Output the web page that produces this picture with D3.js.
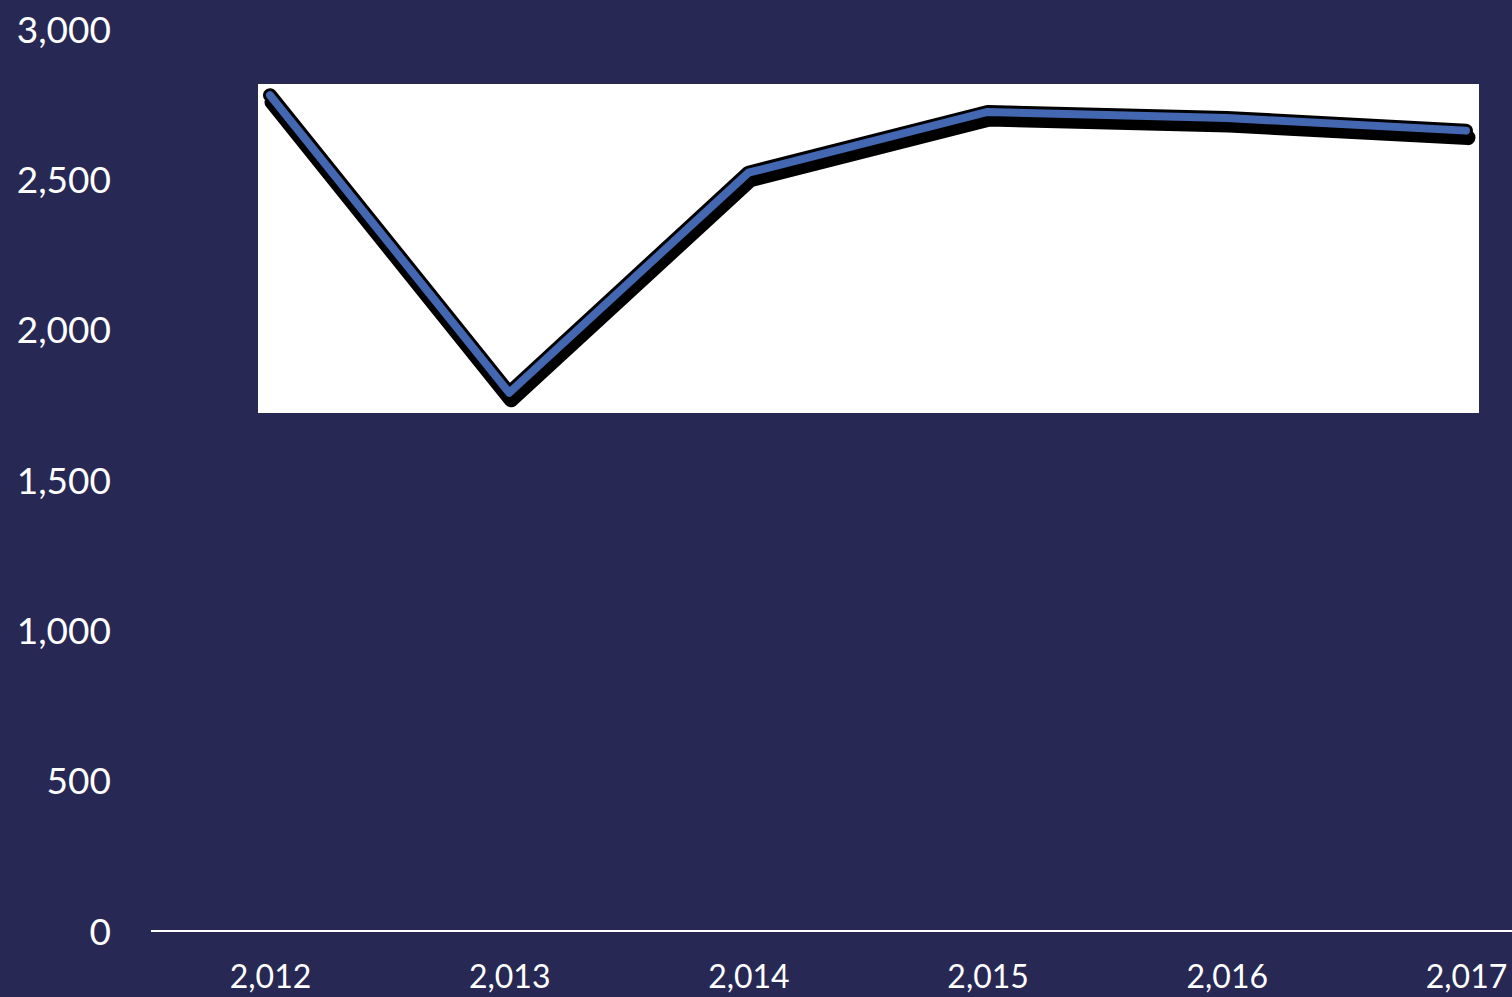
<!DOCTYPE html>
<html>
<head>
<meta charset="utf-8">
<script src="https://cdn.jsdelivr.net/npm/d3@7"></script>
<style>
  html, body { margin: 0; padding: 0; background: #272854; overflow: hidden; }
  svg { display: block; }
</style>
</head>
<body>
<svg id="chart" width="1512" height="997"></svg>
<script>
// Yearly series
const years = [2012, 2013, 2014, 2015, 2016, 2017];
const values = [2780, 1790, 2522, 2724, 2704, 2662];
const yTicks = [0, 500, 1000, 1500, 2000, 2500, 3000];

const W = 1512, H = 997;
const svg = d3.select("#chart");

const x = d3.scalePoint().domain(years).range([270, 1466]);
const y = d3.scaleLinear().domain([0, 3000]).range([931, 29]);

const fmt = d3.format(",");
const font = "Lato, 'Open Sans', sans-serif";

// White plot panel behind the line
svg.append("rect")
  .attr("x", 258).attr("y", 84)
  .attr("width", 1479 - 258).attr("height", 413 - 84)
  .attr("fill", "#ffffff");

// Y axis labels (no line)
const yAxis = d3.axisLeft(y).tickValues(yTicks).tickFormat(fmt).tickSize(0).tickPadding(0);
const gy = svg.append("g").attr("transform", "translate(111,0)").call(yAxis);
gy.select(".domain").remove();
gy.selectAll("text")
  .attr("fill", "#ffffff")
  .attr("font-family", font)
  .attr("font-size", 37)
  .attr("dy", "0.36em");

// X axis baseline and labels
svg.append("line")
  .attr("x1", 151).attr("x2", W)
  .attr("y1", y(0)).attr("y2", y(0))
  .attr("stroke", "#ffffff").attr("stroke-width", 2);

const xAxis = d3.axisBottom(x).tickFormat(fmt).tickSize(0).tickPadding(0);
const gx = svg.append("g").attr("transform", `translate(0,${y(0)})`).call(xAxis);
gx.select(".domain").remove();
gx.selectAll("text")
  .attr("fill", "#ffffff")
  .attr("font-family", font)
  .attr("font-size", 32)
  .attr("dy", "1.78em");

// Line with drop shadow and dark outline
const line = d3.line().x((d, i) => x(years[i])).y(d => y(d));

svg.append("path")
  .datum(values)
  .attr("d", line)
  .attr("transform", "translate(2,7)")
  .attr("fill", "none")
  .attr("stroke", "#000000")
  .attr("stroke-width", 15)
  .attr("stroke-linejoin", "round")
  .attr("stroke-linecap", "round");

svg.append("path")
  .datum(values)
  .attr("d", line)
  .attr("fill", "none")
  .attr("stroke", "#000000")
  .attr("stroke-width", 14)
  .attr("stroke-linejoin", "round")
  .attr("stroke-linecap", "round");

svg.append("path")
  .datum(values)
  .attr("d", line)
  .attr("fill", "none")
  .attr("stroke", "#4467b2")
  .attr("stroke-width", 8)
  .attr("stroke-linejoin", "round")
  .attr("stroke-linecap", "round");
</script>
</body>
</html>
